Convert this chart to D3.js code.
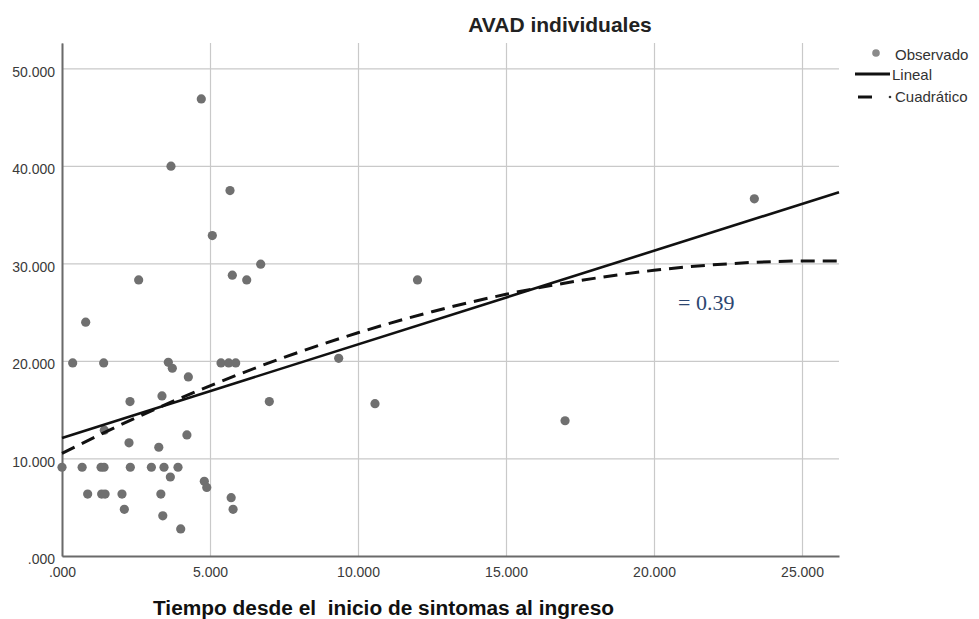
<!DOCTYPE html>
<html>
	<head>
		<meta charset="utf-8">
		<title>AVAD individuales</title>
		<script src="https://d3js.org/d3.v7.min.js"></script>
		<style>
			body { margin: 0; background: #fff; }
		</style>
	</head>
	<body>
		<svg width="979" height="619" font-family="Arial, 'Liberation Sans', sans-serif"></svg>

		<script type="text/javascript">

			// observed points (tiempo, AVAD)
			var obsX = [4.706, 3.682, 5.676, 5.078, 2.590, 5.754, 6.240, 6.713, 12.010, 0.800,
				0.361, 1.408, 3.592, 3.727, 4.268, 5.372, 5.632, 5.868, 9.348, 2.297,
				3.378, 7.004, 10.574, 1.430, 2.264, 3.270, 4.220,
				0.000, 0.680, 1.320, 1.420, 2.308, 3.020, 3.446, 3.919,
				3.660, 4.808, 4.890,
				0.867, 1.340, 1.455, 2.027, 3.340,
				5.715, 5.780, 2.106, 3.405, 4.010, 23.390, 16.995];
			var obsY = [46.87, 39.97, 37.47, 32.85, 28.31, 28.79, 28.31, 29.92, 28.31, 23.97,
				19.80, 19.80, 19.86, 19.25, 18.36, 19.80, 19.80, 19.80, 20.27, 15.83,
				16.41, 15.83, 15.62, 12.90, 11.60, 11.15, 12.41,
				9.10, 9.10, 9.10, 9.10, 9.10, 9.10, 9.10, 9.10,
				8.10, 7.66, 7.03,
				6.35, 6.35, 6.35, 6.35, 6.35,
				5.98, 4.79, 4.79, 4.12, 2.78, 36.62, 13.87];

			// fitted lines
			var linX = [0, 26.25];
			var linY = [12.1, 37.3];
			var quadX = [0, 2.5, 5, 7.5, 10, 12.5, 15, 17.5, 20, 22.5, 25, 26.25];
			var quadY = [10.53, 14.18, 17.45, 20.36, 22.89, 25.05, 26.83, 28.24, 29.29, 29.96, 30.25, 30.26];

			var xTicks = [0, 5, 10, 15, 20, 25];
			var yTicks = [0, 10, 20, 30, 40, 50];

			var plotLeft = 62, plotRight = 839, plotTop = 43, plotBottom = 556;

			var svg = d3.select("svg");

			var x = d3.scaleLinear().domain([0, 26.25]).range([plotLeft, plotRight]);
			var y = d3.scaleLinear().domain([0, 52.6]).range([plotBottom, plotTop]);

			function fmt(d) {
				return d3.format(".3f")(d).replace(/^0\./, ".");
			}

			// grid
			var gx = svg.append("g")
				.attr("transform", "translate(0," + plotBottom + ")")
				.call(d3.axisBottom(x).tickValues(xTicks).tickSize(-(plotBottom - plotTop)).tickFormat(""));
			var gy = svg.append("g")
				.attr("transform", "translate(" + plotLeft + ",0)")
				.call(d3.axisLeft(y).tickValues(yTicks).tickSize(-(plotRight - plotLeft)).tickFormat(""));
			[gx, gy].forEach(function(g) {
				g.select(".domain").remove();
				g.selectAll("line").attr("stroke", "#c9c9c9").attr("stroke-width", 1.2);
			});

			// axis labels
			var ax = svg.append("g")
				.attr("transform", "translate(0," + plotBottom + ")")
				.call(d3.axisBottom(x).tickValues(xTicks).tickSize(0).tickPadding(11).tickFormat(fmt));
			var ay = svg.append("g")
				.attr("transform", "translate(" + plotLeft + ",0)")
				.call(d3.axisLeft(y).tickValues(yTicks).tickSize(0).tickPadding(7).tickFormat(fmt));
			[ax, ay].forEach(function(g) {
				g.attr("font-family", null).attr("font-size", null);
				g.select(".domain").attr("stroke", "#6a6a6a").attr("stroke-width", 2);
				g.selectAll("text")
					.attr("font-size", 14)
					.attr("fill", "#3a3a3a");
			});
			ay.selectAll("text").attr("dy", "0.55em");

			// points
			svg.append("g").selectAll("circle")
				.data(obsX)
				.enter().append("circle")
				.attr("cx", function(d) { return x(d); })
				.attr("cy", function(d, i) { return y(obsY[i]); })
				.attr("r", 4.6)
				.attr("fill", "#707070");

			// fit lines
			var lin = d3.line()
				.x(function(d) { return x(d); })
				.y(function(d, i) { return y(linY[i]); });
			var quad = d3.line()
				.curve(d3.curveMonotoneX)
				.x(function(d) { return x(d); })
				.y(function(d, i) { return y(quadY[i]); });

			svg.append("path")
				.attr("d", lin(linX))
				.attr("fill", "none")
				.attr("stroke", "#111")
				.attr("stroke-width", 2.6);
			svg.append("path")
				.attr("d", quad(quadX))
				.attr("fill", "none")
				.attr("stroke", "#111")
				.attr("stroke-width", 3)
				.attr("stroke-dasharray", "14,8");

			// annotation
			svg.append("text")
				.attr("x", 678)
				.attr("y", 310)
				.attr("font-family", "'Liberation Serif', 'Times New Roman', serif")
				.attr("font-size", 22)
				.attr("fill", "#2d4670")
				.text("= 0.39");

			// title
			svg.append("text")
				.attr("x", 560)
				.attr("y", 32)
				.attr("text-anchor", "middle")
				.attr("font-size", 21)
				.attr("font-weight", "bold")
				.attr("fill", "#222")
				.text("AVAD individuales");

			// x label
			svg.append("text")
				.attr("x", 153)
				.attr("y", 615)
				.attr("font-size", 19.5)
				.attr("font-weight", "bold")
				.attr("fill", "#111")
				.attr("textLength", 461)
				.attr("lengthAdjust", "spacingAndGlyphs")
				.style("white-space", "pre")
				.text("Tiempo desde el  inicio de sintomas al ingreso");

			// legend
			var legend = svg.append("g").attr("font-size", 15).attr("fill", "#333");
			legend.append("circle").attr("cx", 876).attr("cy", 53).attr("r", 3.8).attr("fill", "#8a8a8a");
			legend.append("text").attr("x", 895).attr("y", 55).attr("dy", "0.35em").text("Observado");
			legend.append("line")
				.attr("x1", 855).attr("x2", 890).attr("y1", 74).attr("y2", 74)
				.attr("stroke", "#111").attr("stroke-width", 3);
			legend.append("text").attr("x", 892).attr("y", 75).attr("dy", "0.35em").text("Lineal");
			legend.append("line")
				.attr("x1", 858).attr("x2", 872).attr("y1", 97).attr("y2", 97)
				.attr("stroke", "#111").attr("stroke-width", 3);
			legend.append("circle").attr("cx", 890).attr("cy", 97).attr("r", 1.3).attr("fill", "#333");
			legend.append("text").attr("x", 895).attr("y", 97).attr("dy", "0.35em").text("Cuadrático");

		</script>
	</body>
</html>
